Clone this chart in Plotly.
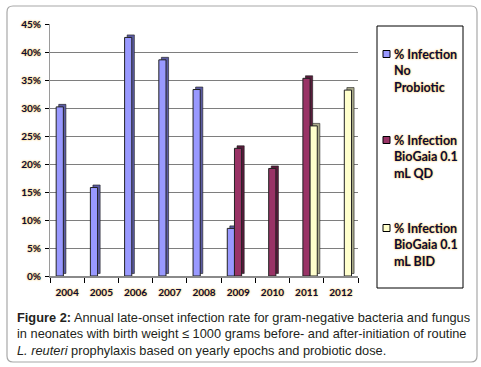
import plotly.graph_objects as go

# ---------------- data ----------------
years = ["2004", "2005", "2006", "2007", "2008", "2009", "2010", "2011", "2012"]
no_probiotic = [30.2, 15.8, 42.6, 38.6, 33.3, 8.5, None, None, None]
biogaia_qd = [None, None, None, None, None, 22.8, 19.2, 35.3, None]
biogaia_bid = [None, None, None, None, None, None, None, 26.8, 33.2]
series_names = ["% Infection No Probiotic", "% Infection BioGaia 0.1 mL QD",
                "% Infection BioGaia 0.1 mL BID"]
legend_lines = [["% Infection", "No", "Probiotic"],
                ["% Infection", "BioGaia 0.1", "mL QD"],
                ["% Infection", "BioGaia 0.1", "mL BID"]]
y_ticks = [0, 5, 10, 15, 20, 25, 30, 35, 40, 45]
caption_lines = [
    "<b>Figure 2:</b> Annual late-onset infection rate for gram-negative bacteria and fungus",
    "in neonates with birth weight \u2264 1000 grams before- and after-initiation of routine",
    "<i>L. reuteri</i> prophylaxis based on yearly epochs and probiotic dose.",
]

# ---------------- styling ----------------
W, H = 481, 367
L, R, T, B = 50, 358, 24, 276
front_cols = ["#9999FF", "#993366", "#FFFFCC"]
side_cols = ["#5c5ca3", "#5a1c3c", "#a9a98a"]
offsets = [-0.32, -0.11, 0.10]
bar_w = 0.21
depth_x, depth_y = 0.075, 0.45

label_font = dict(family="Lato", size=10, color="#0a0a3a", weight="bold",
                  shadow="0px 0px 2px #f5a800")


def px_x(p):
    return (p - L) / (R - L)


def px_y(p):
    return (B - p) / (B - T)


fig = go.Figure()
all_series = [no_probiotic, biogaia_qd, biogaia_bid]
for vals, name, fc, sc, off in zip(all_series, series_names, front_cols, side_cols, offsets):
    # depth (3D side/top) face
    fig.add_trace(go.Bar(x=years, y=vals, base=depth_y, offset=off + depth_x, width=bar_w,
                         marker=dict(color=sc, line=dict(color="#1a1a1a", width=0.6)),
                         showlegend=False, hoverinfo="skip"))
    # front face
    fig.add_trace(go.Bar(x=years, y=vals, offset=off, width=bar_w, name=name,
                         marker=dict(color=fc, line=dict(color="#222222", width=1)),
                         showlegend=False))

shapes = []
# outer rounded frame
x0, x1, y0, y1, r = 7, 477, 6, 362, 6
path = (f"M {px_x(x0 + r)},{px_y(y0)} L {px_x(x1 - r)},{px_y(y0)} "
        f"Q {px_x(x1)},{px_y(y0)} {px_x(x1)},{px_y(y0 + r)} "
        f"L {px_x(x1)},{px_y(y1 - r)} Q {px_x(x1)},{px_y(y1)} {px_x(x1 - r)},{px_y(y1)} "
        f"L {px_x(x0 + r)},{px_y(y1)} Q {px_x(x0)},{px_y(y1)} {px_x(x0)},{px_y(y1 - r)} "
        f"L {px_x(x0)},{px_y(y0 + r)} Q {px_x(x0)},{px_y(y0)} {px_x(x0 + r)},{px_y(y0)} Z")
shapes.append(dict(type="path", xref="paper", yref="paper", path=path,
                   line=dict(color="#a8a8a8", width=1.2), layer="below"))
# legend box
shapes.append(dict(type="rect", xref="paper", yref="paper",
                   x0=px_x(377), x1=px_x(463), y0=px_y(288), y1=px_y(26),
                   line=dict(color="#000000", width=1), fillcolor="white"))

annotations = []
entry_y = [54, 140, 228]
line_gap = 16.5
for ey, lines, fc in zip(entry_y, legend_lines, front_cols):
    shapes.append(dict(type="rect", xref="paper", yref="paper",
                       x0=px_x(383), x1=px_x(390), y0=px_y(ey + 3.5), y1=px_y(ey - 3.5),
                       line=dict(color="#000000", width=1), fillcolor=fc))
    for k, txt in enumerate(lines):
        annotations.append(dict(text=txt, xref="paper", yref="paper", x=px_x(392),
                                y=px_y(ey + k * line_gap), xanchor="left", yanchor="middle",
                                showarrow=False,
                                font=dict(family="Lato", size=12.5, color="#0a0a3a",
                                          weight="bold", shadow="0px 0px 2px #f5a800")))

cap_y = [317, 333, 350]
for cy, txt in zip(cap_y, caption_lines):
    annotations.append(dict(text=txt, xref="paper", yref="paper", x=px_x(15), y=px_y(cy),
                            xanchor="left", yanchor="middle", showarrow=False,
                            font=dict(family="Liberation Sans", size=12.8, color="#231f20")))

fig.update_layout(
    width=W, height=H, autosize=False,
    margin=dict(l=L, r=W - R, t=T, b=H - B, pad=0),
    paper_bgcolor="white", plot_bgcolor="white",
    barmode="overlay", showlegend=False,
    shapes=shapes, annotations=annotations,
    xaxis=dict(type="category", categoryorder="array", categoryarray=years,
               showgrid=False, showline=True, linecolor="#8a8a8a", linewidth=2,
               ticks="outside", tickson="boundaries", ticklen=5, tickcolor="#000000",
               tickfont=label_font, ticklabelstandoff=6, zeroline=False),
    yaxis=dict(range=[0, 45], tickvals=y_ticks, ticktext=[f"{v}%" for v in y_ticks],
               showgrid=True, gridcolor="#7e7e7e", gridwidth=1,
               showline=True, linecolor="#9a9a9a", linewidth=1,
               ticks="outside", ticklen=4, tickcolor="#000000",
               tickfont=label_font, ticklabelstandoff=2, zeroline=False),
)

fig.write_html("out.html", config={"displayModeBar": False},
               post_script="document.body.style.margin='0';document.body.style.overflow='hidden';")
